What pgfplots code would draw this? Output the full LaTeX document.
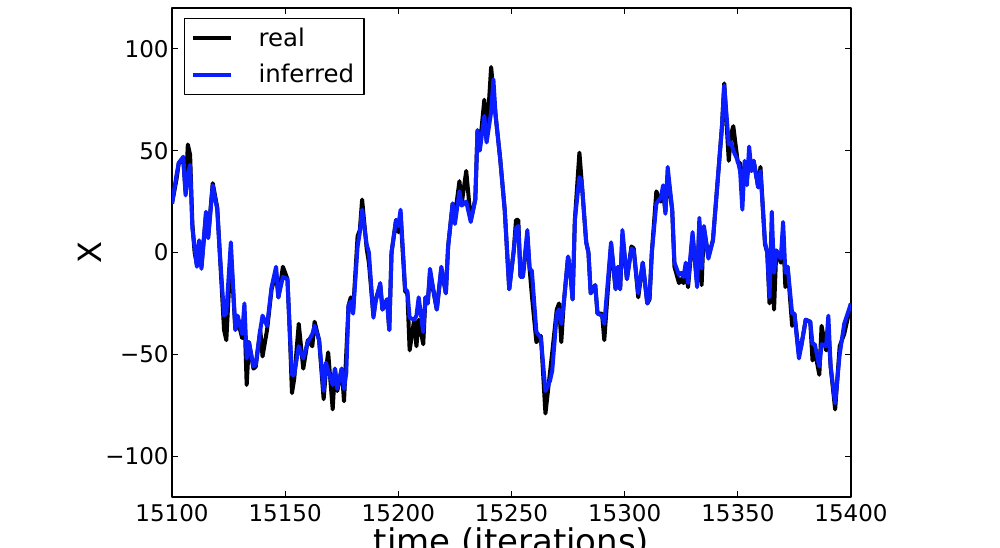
\documentclass[border=0pt]{standalone}
\usepackage{pgfplots}
\pgfplotsset{compat=1.18}
\usepackage{fontspec}
\setmainfont{DejaVu Sans}
\definecolor{infblue}{RGB}{10,30,255}

\begin{document}
\begin{tikzpicture}
\useasboundingbox (-86pt,-25pt) rectangle (414pt,248.5pt);
\clip (-86pt,-25pt) rectangle (414pt,248.5pt);
\begin{axis}[
  at={(0pt,0pt)}, anchor=south west,
  scale only axis, width=339.5pt, height=244.5pt,
  xmin=15100, xmax=15400, ymin=-120, ymax=120,
  scaled x ticks=false, scaled y ticks=false,
  xtick={15100,15150,15200,15250,15300,15350,15400},
  xticklabels={15100,15150,15200,15250,15300,15350,15400},
  ytick={-100,-50,0,50,100},
  yticklabels={−100,−50,0,50,100},
  tick label style={font=\fontsize{11.5}{13}\selectfont},
  yticklabel style={inner xsep=1.5pt},
  xticklabel style={inner ysep=3.5pt},
  xlabel={time (iterations)}, ylabel={X},
  every axis x label/.style={at={(axis description cs:0.5,0)}, yshift=-15pt, anchor=north, inner sep=0pt, font=\fontsize{17}{20}\selectfont},
  every axis y label/.style={at={(axis description cs:0,0.5)}, xshift=-41pt, rotate=90, anchor=center, inner sep=0pt, font=\fontsize{16}{19}\selectfont},
  axis line style={line width=1pt},
  major tick length=3pt,
  every tick/.style={line width=0.5pt, black},
  legend style={at={(0.0177,0.9796)}, anchor=north west, draw=black, line width=0.6pt,
    font=\fontsize{12.2}{14}\selectfont, inner xsep=3pt, inner ysep=2.5pt, row sep=3.5pt, column sep=11pt,
    cells={anchor=west}},
  legend image code/.code={\draw[#1, line width=2pt] (0pt,0pt) -- (19pt,0pt);},
  line join=round,
]
\addplot[black, line width=2pt, line join=round] coordinates {
(15100,24) (15102,36) (15103,44) (15105,45) (15106,30) (15107,53) (15108,48) (15109,14) (15110,0) (15111,-6)
(15112,5) (15113,-7) (15115,18) (15116,8) (15118,34) (15120,22) (15121,2) (15123,-38) (15124,-43) (15126,0)
(15128,-38) (15129,-33) (15131,-42) (15132,-30) (15133,-65) (15134,-44) (15136,-57) (15137,-56) (15139,-38) (15140,-51)
(15142,-38) (15144,-18) (15146,-10) (15147,-22) (15149,-7) (15151,-13) (15152,-38) (15153,-69) (15154,-62) (15156,-35)
(15158,-57) (15160,-43) (15162,-46) (15163,-34) (15165,-43) (15167,-72) (15168,-58) (15169,-49) (15171,-77) (15172,-57)
(15173,-68) (15175,-57) (15176,-73) (15178,-26) (15179,-22) (15180,-29) (15182,8) (15183,11) (15184,26) (15186,2)
(15187,-5) (15189,-31) (15190,-23) (15192,-16) (15193,-28) (15195,-23) (15196,-38) (15197,0) (15199,16) (15200,10)
(15201,18) (15203,-19) (15204,-20) (15205,-48) (15207,-33) (15208,-46) (15209,-33) (15211,-45) (15212,-22) (15213,-25)
(15214,-10) (15215,-16) (15217,-28) (15219,-8) (15221,-20) (15222,3) (15224,24) (15225,18) (15227,35) (15228,24)
(15230,40) (15232,16) (15234,26) (15235,60) (15236,52) (15238,75) (15239,55) (15241,91) (15243,67) (15245,46)
(15247,21) (15249,-18) (15251,1) (15252,16) (15253,16) (15254,-12) (15255,-12) (15257,8) (15258,-8) (15259,-21)
(15261,-44) (15263,-41) (15265,-79) (15267,-59) (15268,-49) (15270,-28) (15271,-25) (15272,-44) (15273,-26) (15275,-2)
(15276,-10) (15277,-23) (15278,16) (15280,49) (15281,35) (15283,5) (15284,0) (15285,-20) (15287,-16) (15288,-30)
(15290,-30) (15291,-43) (15294,4) (15296,-18) (15297,-7) (15298,-18) (15299,8) (15301,-13) (15303,3) (15304,2)
(15306,-22) (15308,-5) (15310,-25) (15311,-23) (15312,0) (15314,30) (15316,25) (15317,30) (15318,20) (15319,38)
(15321,21) (15322,-7) (15324,-15) (15325,-13) (15326,-15) (15327,-9) (15328,-17) (15330,8) (15332,-15) (15333,14)
(15334,-16) (15335,12) (15337,-2) (15339,6) (15341,34) (15343,62) (15344,83) (15346,45) (15347,58) (15348,62)
(15350,44) (15351,44) (15352,30) (15353,42) (15354,36) (15355,45) (15356,40) (15357,45) (15359,32) (15360,42)
(15362,4) (15363,0) (15364,-25) (15365,10) (15366,-28) (15367,1) (15369,-5) (15370,10) (15371,-17) (15372,-7)
(15374,-36) (15375,-30) (15377,-50) (15378,-46) (15380,-33) (15382,-34) (15383,-53) (15384,-48) (15386,-60) (15387,-36)
(15389,-48) (15390,-38) (15391,-56) (15393,-77) (15395,-46) (15397,-40) (15400,-25)
};
\addlegendentry{real}
\addplot[infblue, line width=2pt, line join=round] coordinates {
(15100,24) (15102,38) (15103,44) (15105,47) (15106,28) (15107,38) (15108,43) (15109,12) (15111,-7) (15112,6)
(15113,-8) (15115,20) (15116,7) (15118,33) (15120,21) (15121,2) (15123,-31) (15124,-30) (15126,5) (15128,-38)
(15129,-31) (15131,-40) (15132,-25) (15133,-52) (15134,-44) (15136,-56) (15137,-55) (15139,-38) (15140,-31) (15142,-36)
(15144,-17) (15146,-7) (15147,-22) (15149,-12) (15151,-13) (15152,-38) (15153,-60) (15154,-60) (15156,-46) (15158,-52)
(15160,-44) (15162,-40) (15163,-36) (15165,-43) (15167,-68) (15168,-54) (15169,-58) (15171,-65) (15172,-57) (15173,-67)
(15175,-57) (15176,-67) (15177,-59) (15178,-26) (15179,-24) (15180,-30) (15182,3) (15183,10) (15184,21) (15186,4)
(15187,0) (15189,-32) (15190,-24) (15192,-15) (15193,-28) (15195,-23) (15196,-38) (15197,0) (15199,16) (15200,13)
(15201,21) (15203,-18) (15204,-19) (15205,-32) (15207,-33) (15208,-31) (15209,-22) (15211,-39) (15212,-22) (15213,-25)
(15214,-8) (15215,-15) (15217,-28) (15219,-7) (15221,-20) (15222,3) (15224,24) (15225,14) (15227,30) (15228,23)
(15230,25) (15232,15) (15234,26) (15235,60) (15236,50) (15238,67) (15239,54) (15241,69) (15242,85) (15243,67)
(15245,46) (15247,21) (15249,-18) (15251,1) (15252,12) (15253,13) (15254,-12) (15255,-12) (15257,11) (15258,-8)
(15259,-9) (15261,-39) (15263,-42) (15265,-68) (15267,-63) (15268,-58) (15270,-30) (15271,-28) (15272,-35) (15273,-26)
(15275,-2) (15276,-10) (15277,-23) (15278,16) (15280,37) (15281,35) (15283,5) (15284,0) (15285,-20) (15287,-16)
(15288,-30) (15290,-31) (15291,-35) (15294,5) (15296,-18) (15297,-7) (15298,-18) (15299,11) (15301,-13) (15303,2)
(15304,1) (15306,-20) (15308,-5) (15310,-25) (15311,-22) (15312,0) (15314,24) (15316,27) (15317,33) (15318,19)
(15319,42) (15321,21) (15322,-5) (15324,-11) (15325,-10) (15326,-12) (15327,-5) (15328,-15) (15330,10) (15332,-17)
(15333,17) (15334,-8) (15335,13) (15337,-3) (15339,6) (15341,34) (15343,62) (15344,82) (15346,53) (15347,54)
(15348,50) (15350,45) (15351,40) (15352,21) (15353,45) (15354,33) (15355,52) (15356,40) (15357,45) (15359,32)
(15360,40) (15362,5) (15363,0) (15364,-22) (15365,20) (15366,-10) (15367,1) (15369,-3) (15370,15) (15371,-10)
(15372,-7) (15374,-30) (15375,-30) (15377,-52) (15378,-46) (15380,-33) (15382,-34) (15383,-45) (15384,-45) (15386,-56)
(15387,-45) (15389,-46) (15390,-31) (15391,-56) (15393,-74) (15395,-50) (15397,-35) (15400,-25)
};
\addlegendentry{inferred}
\end{axis}
\end{tikzpicture}
\end{document}
